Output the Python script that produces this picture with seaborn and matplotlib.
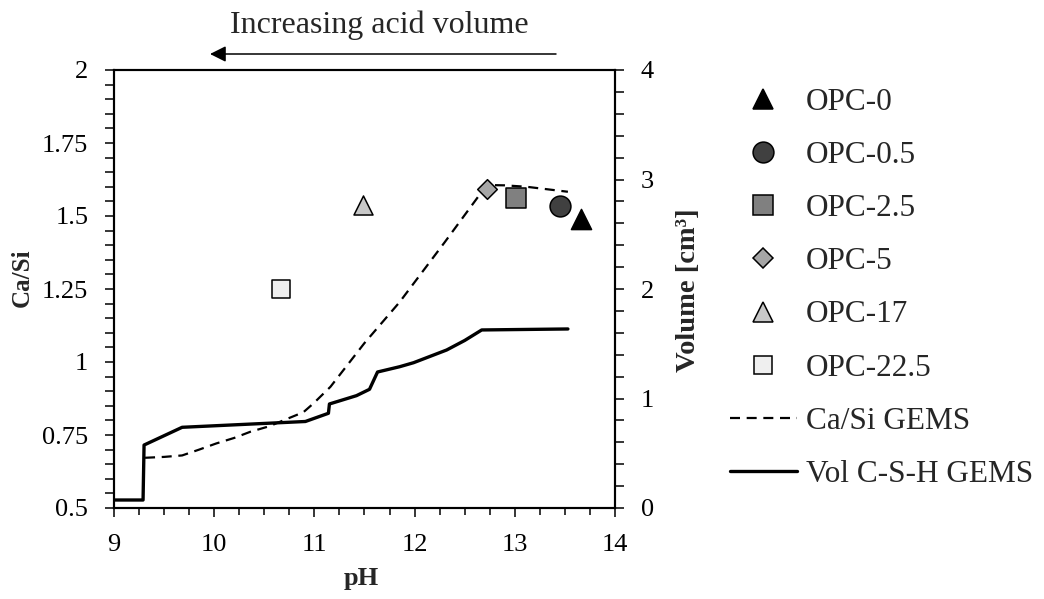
import numpy as np
import pandas as pd
import seaborn as sns
import matplotlib.pyplot as plt
from matplotlib.lines import Line2D
from matplotlib.ticker import FixedLocator, MultipleLocator

sns.set_style("ticks")
plt.rcParams['font.family'] = ['Liberation Serif', 'DejaVu Serif']

# ---- data ----
samples = ["OPC-0", "OPC-0.5", "OPC-2.5", "OPC-5", "OPC-17", "OPC-22.5"]
sample_ph = [13.66, 13.45, 13.01, 12.72, 11.49, 10.67]
sample_ca_si = [1.49, 1.535, 1.563, 1.592, 1.537, 1.25]

gems_ph = [9.31, 9.50, 9.68, 9.85, 10.02, 10.20, 10.36, 10.55, 10.69, 10.89,
           10.99, 11.16, 11.50, 11.85, 12.30, 12.72, 12.90, 13.12, 13.53]
gems_ca_si = [0.672, 0.675, 0.680, 0.700, 0.721, 0.740, 0.761, 0.780, 0.800, 0.828,
              0.858, 0.915, 1.065, 1.205, 1.410, 1.606, 1.605, 1.600, 1.583]

vol_ph = [9.00, 9.29, 9.30, 9.68, 10.91, 11.14, 11.15, 11.42, 11.55, 11.63,
          11.85, 11.99, 12.32, 12.50, 12.67, 13.53]
vol_csh = [0.073, 0.073, 0.575, 0.737, 0.790, 0.865, 0.950, 1.026, 1.084, 1.242,
           1.290, 1.327, 1.443, 1.530, 1.626, 1.635]

x_ticks = [9, 10, 11, 12, 13, 14]
y_ticks = [0.5, 0.75, 1.0, 1.25, 1.5, 1.75, 2.0]
y_tick_labels = ["0.5", "0.75", "1", "1.25", "1.5", "1.75", "2"]
y2_ticks = [0, 1, 2, 3, 4]

# ---- styles ----
markers = ["^", "o", "s", "D", "^", "s"]
fills = ["#000000", "#404040", "#808080", "#a6a6a6", "#c8c8c8", "#efefef"]
msizes = [14.5, 15.0, 15.0, 10.0, 13.7, 12.7]

W, H = 1044, 599
fig = plt.figure(figsize=(W / 100, H / 100), dpi=100)
ax = fig.add_axes([114 / W, 1 - 508 / H, (615 - 114) / W, (508 - 70) / H])
ax2 = ax.twinx()

# lines
sns.lineplot(x=gems_ph, y=gems_ca_si, ax=ax, color="black", lw=1.6,
             linestyle=(0, (4.5, 3)), estimator=None, sort=False, errorbar=None)
sns.lineplot(x=vol_ph, y=vol_csh, ax=ax2, color="black", lw=2.4,
             estimator=None, sort=False, errorbar=None)

# sample points
for i in range(len(samples)):
    sns.scatterplot(x=[sample_ph[i]], y=[sample_ca_si[i]], ax=ax, marker=markers[i],
                    color=fills[i], s=msizes[i] ** 2, edgecolor="black",
                    linewidth=1.1, zorder=5, legend=False)

ax.set_xlim(9, 14)
ax.set_ylim(0.5, 2)
ax2.set_ylim(0, 4)
ax.set_zorder(ax2.get_zorder() + 1)
ax.patch.set_visible(False)

ax.xaxis.set_major_locator(FixedLocator(x_ticks))
ax.xaxis.set_minor_locator(MultipleLocator(0.25))
ax.yaxis.set_major_locator(FixedLocator(y_ticks))
ax.set_yticklabels(y_tick_labels)
ax.yaxis.set_minor_locator(MultipleLocator(0.05))
ax2.yaxis.set_major_locator(FixedLocator(y2_ticks))
ax2.yaxis.set_minor_locator(MultipleLocator(0.2))

tick_fs = 19
ax.tick_params(axis="both", which="both", direction="out", width=1.1, colors="black",
               labelsize=tick_fs)
ax.tick_params(axis="y", which="both", length=6.5, pad=12)
ax.tick_params(axis="x", which="major", length=6.5, pad=12)
ax.tick_params(axis="x", which="minor", length=5)
ax2.tick_params(axis="y", which="both", direction="out", length=6.5, width=1.1,
                pad=12, labelsize=tick_fs, colors="black")

for a in (ax, ax2):
    for s in a.spines.values():
        s.set_visible(True)
        s.set_linewidth(1.5)
        s.set_color("black")

ax.set_xlabel("pH", fontsize=19, fontweight="bold")
ax.set_ylabel("Ca/Si", fontsize=18, fontweight="bold")
ax2.set_ylabel("Volume [cm³]", fontsize=20.5, fontweight="bold", rotation=90)
ax.xaxis.set_label_coords((361 - 114) / 501, (508 - 579) / 438)
ax.xaxis.label.set_va("center")
ax.yaxis.set_label_coords((22 - 114) / 501, (508 - 278) / 438)
ax.yaxis.label.set_va("center")
ax2.yaxis.set_label_coords((688 - 114) / 501, (508 - 290) / 438)
ax2.yaxis.label.set_va("center")

# arrow + text
fig.text(379 / W, 1 - 25 / H, "Increasing acid volume", ha="center", va="center", fontsize=23)
ax.annotate("", xy=(210 / W, 1 - 54 / H), xytext=(556 / W, 1 - 54 / H),
            xycoords="figure fraction", textcoords="figure fraction",
            arrowprops=dict(arrowstyle="-|>", color="black", lw=1.1,
                            mutation_scale=24, shrinkA=0, shrinkB=0))

# legend
handles = []
for i in range(len(samples)):
    handles.append(Line2D([], [], linestyle="none", marker=markers[i], markersize=msizes[i],
                          markerfacecolor=fills[i], markeredgecolor="black",
                          markeredgewidth=1.1))
handles.append(Line2D([], [], color="black", lw=1.6, linestyle=(0, (4.5, 3))))
handles.append(Line2D([], [], color="black", lw=2.4))
labels = samples + ["Ca/Si GEMS", "Vol C-S-H GEMS"]
fig.legend(handles, labels, loc="upper left", bbox_to_anchor=(714 / W, 1 - 72 / H),
           frameon=False, fontsize=22.5, handlelength=2.15, handletextpad=0.3,
           labelspacing=0.775, borderpad=0.0)

fig.savefig("out.png", dpi=100)
